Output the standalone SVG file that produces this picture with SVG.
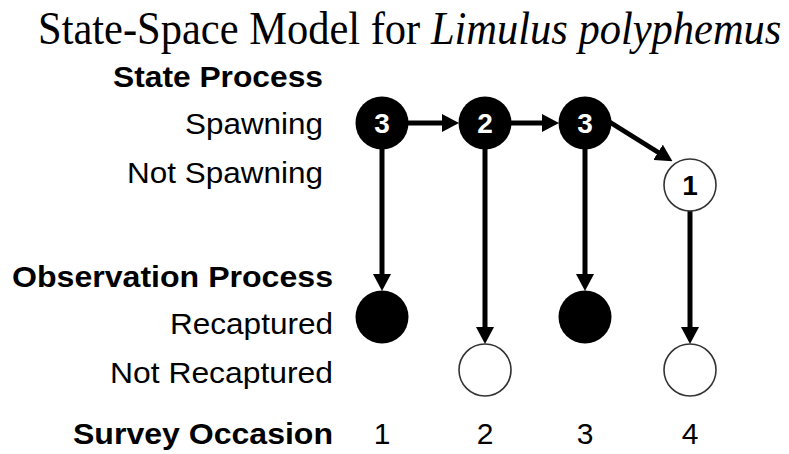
<svg xmlns="http://www.w3.org/2000/svg" width="789" height="454" viewBox="0 0 789 454">
  <style>
    .title { font-family: "Liberation Serif", "Times New Roman", serif; font-size: 42.5px; fill: #000; }
    .head { font-family: "Liberation Sans", Arial, sans-serif; font-size: 30px; font-weight: bold; fill: #000; text-anchor: end; }
    .lab { font-family: "Liberation Sans", Arial, sans-serif; font-size: 30px; fill: #000; text-anchor: end; }
    .occ { font-family: "Liberation Sans", Arial, sans-serif; font-size: 30px; fill: #000; text-anchor: middle; }
    .num { font-family: "Liberation Sans", Arial, sans-serif; font-size: 28px; font-weight: bold; text-anchor: middle; }
    .on { fill: #000; }
    .off { fill: #fff; stroke: #333; stroke-width: 1.6; }
    .edge { stroke: #000; stroke-width: 5; fill: none; marker-end: url(#head); }
  </style>
  <defs>
    <marker id="head" markerUnits="userSpaceOnUse" viewBox="0 0 17 18" markerWidth="17" markerHeight="18" refX="7" refY="9" orient="auto">
      <path d="M0,0 L17,9 L0,18 Z" fill="#000"/>
    </marker>
  </defs>
  <rect width="789" height="454" fill="#fff"/>

  <!-- title, stretched a little upward from its baseline -->
  <g transform="translate(0 44) scale(1 1.08) translate(0 -44)">
    <text class="title" x="38" y="44">State-Space Model for <tspan font-style="italic">Limulus polyphemus</tspan></text>
  </g>

  <!-- row labels -->
  <text class="head" x="323" y="87" textLength="210" lengthAdjust="spacingAndGlyphs">State Process</text>
  <text class="lab" x="323" y="134" textLength="138" lengthAdjust="spacingAndGlyphs">Spawning</text>
  <text class="lab" x="323" y="183" textLength="196" lengthAdjust="spacingAndGlyphs">Not Spawning</text>
  <text class="head" x="333" y="287" textLength="321" lengthAdjust="spacingAndGlyphs">Observation Process</text>
  <text class="lab" x="333" y="334" textLength="163" lengthAdjust="spacingAndGlyphs">Recaptured</text>
  <text class="lab" x="333" y="383" textLength="223" lengthAdjust="spacingAndGlyphs">Not Recaptured</text>
  <text class="head" x="333" y="444" textLength="260" lengthAdjust="spacingAndGlyphs">Survey Occasion</text>

  <!-- survey occasions -->
  <text class="occ" x="382" y="444">1</text>
  <text class="occ" x="485" y="444">2</text>
  <text class="occ" x="585" y="444">3</text>
  <text class="occ" x="690" y="444">4</text>

  <!-- connectors -->
  <g id="connectors">
    <line class="edge" x1="408" y1="123" x2="449" y2="123"/>
    <line class="edge" x1="511" y1="123" x2="549" y2="123"/>
    <line class="edge" x1="608" y1="121" x2="664" y2="156"/>
    <line class="edge" x1="382" y1="148" x2="382" y2="281"/>
    <line class="edge" x1="485" y1="148" x2="485" y2="334"/>
    <line class="edge" x1="585" y1="148" x2="585" y2="281"/>
    <line class="edge" x1="690" y1="210" x2="690" y2="334"/>
  </g>

  <!-- state process -->
  <g id="s1"><circle class="on" cx="382" cy="123" r="26.5"/><text class="num" x="382" y="133" fill="#fff">3</text></g>
  <g id="s2"><circle class="on" cx="485" cy="123" r="26.5"/><text class="num" x="485" y="133" fill="#fff">2</text></g>
  <g id="s3"><circle class="on" cx="585" cy="123" r="26.5"/><text class="num" x="585" y="133" fill="#fff">3</text></g>
  <g id="s4"><circle class="off" cx="690" cy="185" r="26"/><text class="num" x="690" y="195" fill="#000">1</text></g>

  <!-- observation process -->
  <g id="o1"><circle class="on" cx="382" cy="317" r="26.5"/></g>
  <g id="o2"><circle class="off" cx="485" cy="370" r="26"/></g>
  <g id="o3"><circle class="on" cx="585" cy="317" r="26.5"/></g>
  <g id="o4"><circle class="off" cx="690" cy="370" r="26"/></g>
</svg>
